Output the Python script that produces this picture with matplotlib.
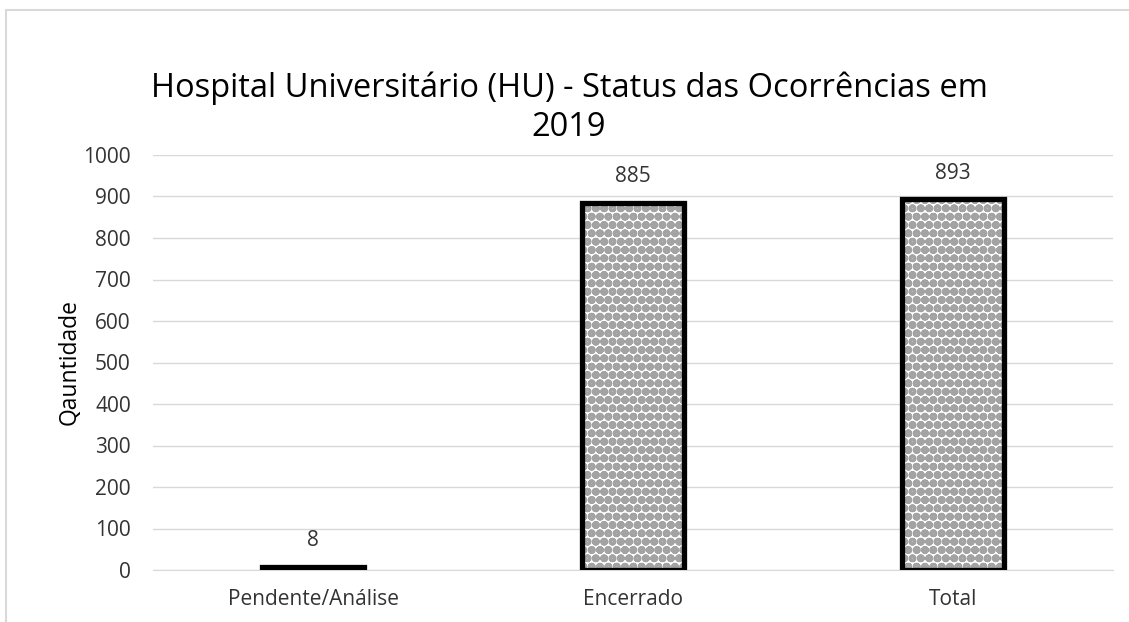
import matplotlib.pyplot as plt
from matplotlib.patches import Rectangle

categorias = ["Pendente/Análise", "Encerrado", "Total"]
quantidades = [8, 885, 893]
yticks = [0, 100, 200, 300, 400, 500, 600, 700, 800, 900, 1000]

plt.rcParams["font.family"] = ["Open Sans", "DejaVu Sans"]
plt.rcParams["hatch.linewidth"] = 3.2

fig = plt.figure(figsize=(11.29, 6.22), dpi=100)
ax = fig.add_axes([153 / 1129, 1 - 570 / 622, 960 / 1129, 415 / 622])

x = list(range(len(categorias)))
# fill with gray pattern, then black outline on top
ax.bar(x, quantidades, width=0.32, color="white", edgecolor="#a3a3a3",
       hatch="oo", linewidth=0, zorder=2)
ax.bar(x, quantidades, width=0.32, fill=False, edgecolor="black",
       linewidth=3.8, zorder=3)

for xi, v in zip(x, quantidades):
    ax.annotate(str(v), (xi, v), xytext=(0, 11), textcoords="offset points",
                ha="center", va="bottom", fontsize=15, color="#333333")

ax.set_xlim(-0.5, 2.5)
ax.set_ylim(0, 1000)
ax.set_yticks(yticks)
ax.set_xticks(x)
ax.set_xticklabels(categorias)
ax.tick_params(axis="both", length=0, labelsize=15, colors="#333333")
ax.tick_params(axis="y", pad=16)
ax.tick_params(axis="x", pad=14)
ax.grid(axis="y", color="#d9d9d9", linewidth=1)
ax.set_axisbelow(True)
for s in ["top", "right", "left"]:
    ax.spines[s].set_visible(False)
ax.spines["bottom"].set_color("#d9d9d9")
ax.set_ylabel("Qauntidade", fontsize=16.5, color="black", labelpad=1)

fig.text(569 / 1129, 1 - 108 / 622,
         "Hospital Universitário (HU) - Status das Ocorrências em\n2019",
         ha="center", va="center", fontsize=23.5, linespacing=1.25)

fig.patches.append(Rectangle((6 / 1129, -0.1), 1.2, 1 - 10 / 622 + 0.1,
                             transform=fig.transFigure, fill=False,
                             edgecolor="#d9d9d9", linewidth=1.5))

fig.savefig("out.png", dpi=100)
